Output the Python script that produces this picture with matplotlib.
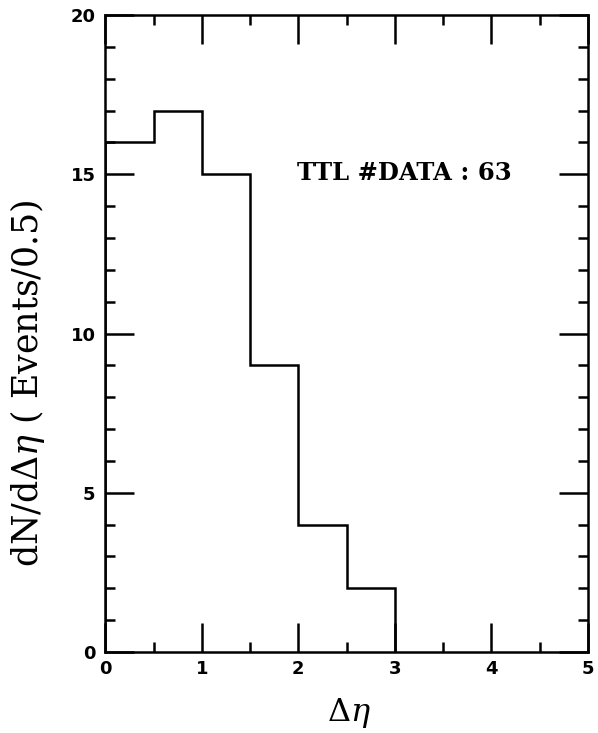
import matplotlib
matplotlib.use("Agg")
import matplotlib.pyplot as plt
import numpy as np

plt.rcParams["mathtext.fontset"] = "dejavuserif"

# Histogram of Δη, bin width 0.5
bin_edges = [0.0, 0.5, 1.0, 1.5, 2.0, 2.5, 3.0]
counts = [16, 17, 15, 9, 4, 2]
x_ticks = [0, 1, 2, 3, 4, 5]
y_ticks = [0, 5, 10, 15, 20]
total_label = "TTL #DATA : 63"

fig = plt.figure(figsize=(5.98, 7.33), dpi=100)
ax = fig.add_axes([0.176, 0.1105, 0.807, 0.869])

ax.stairs(counts, bin_edges, color="black", linewidth=1.8, baseline=0)

ax.set_xlim(0, 5)
ax.set_ylim(0, 20)
ax.set_xticks(x_ticks)
ax.set_yticks(y_ticks)
ax.set_xticks(np.arange(0.5, 5, 1.0), minor=True)
ax.set_yticks(np.arange(1, 20, 1), minor=True)
ax.tick_params(which="both", direction="in", top=True, right=True,
               width=1.8, color="black")
ax.tick_params(which="major", length=21)
ax.tick_params(which="minor", length=7)
ax.tick_params(axis="x", which="major", pad=6)
ax.tick_params(axis="y", which="major", pad=7)
for lab in ax.get_xticklabels() + ax.get_yticklabels():
    lab.set_fontweight("bold")
    lab.set_fontsize(13)
for s in ax.spines.values():
    s.set_linewidth(1.8)

serif = ["DejaVu Serif"]
fig.text(38 / 598, 1 - 383 / 733, "dN/dΔ$\\eta$ ( Events/0.5)", fontsize=25,
         family=serif, rotation=90, rotation_mode="anchor",
         ha="center", va="baseline")
fig.text(349 / 598, 1 - 721 / 733, "Δ$\\eta$", fontsize=23, family=serif,
         ha="center", va="baseline")
ax.text(1.99, 15.04, total_label, fontsize=17.5, family=serif,
        fontweight="bold", va="center", ha="left")

fig.savefig("out.png", dpi=100)
